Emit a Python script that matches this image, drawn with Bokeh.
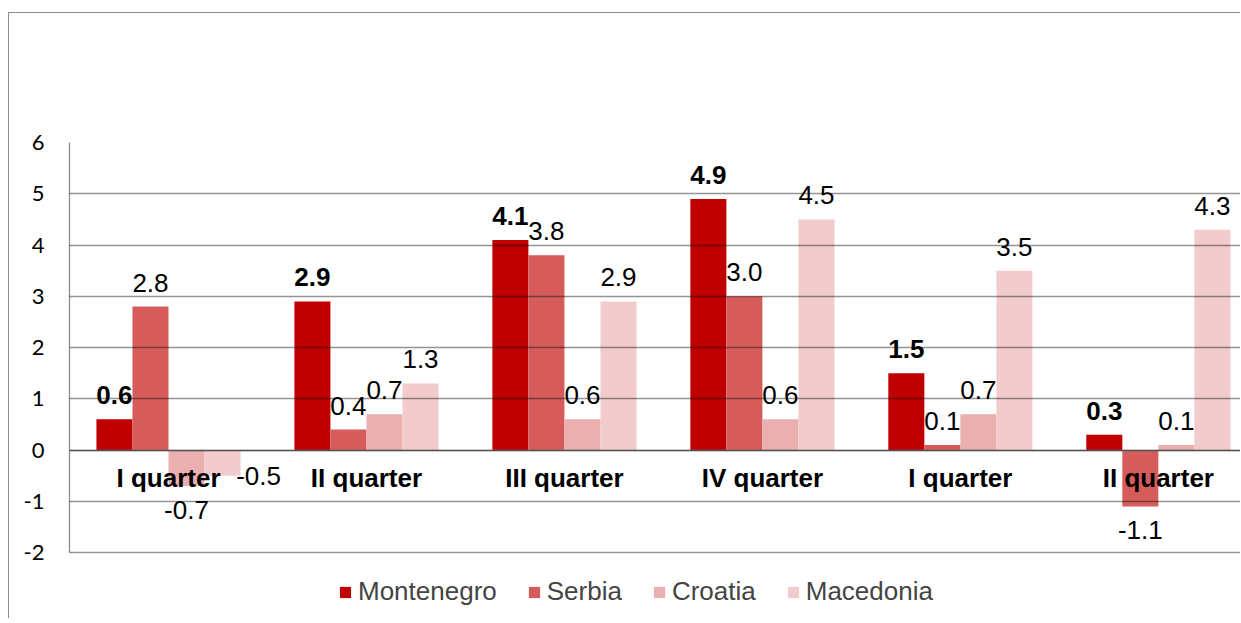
from bokeh.plotting import figure
from bokeh.models import (ColumnDataSource, FixedTicker, LabelSet, Legend, LegendItem,
                          Range1d)
from bokeh.core.properties import value
from bokeh.transform import dodge
from bokeh.embed import file_html
from bokeh.resources import INLINE

# ---- data ----
categories = ["I quarter", "II quarter", "III quarter", "IV quarter", "I quarter", "II quarter"]
series_names = ["Montenegro", "Serbia", "Croatia", "Macedonia"]
montenegro = [0.6, 2.9, 4.1, 4.9, 1.5, 0.3]
serbia = [2.8, 0.4, 3.8, 3.0, 0.1, -1.1]
croatia = [-0.7, 0.7, 0.6, 0.6, 0.7, 0.1]
macedonia = [-0.5, 1.3, 2.9, 4.5, 3.5, 4.3]
y_ticks = [-2, -1, 0, 1, 2, 3, 4, 5, 6]

# ---- styles ----
colors = ["#C00000", "#D65C5C", "#EBAFAF", "#F2CCCC"]
grid_gray = "#8c8c8c"
bar_w = 0.182
offsets = [-1.5 * bar_w, -0.5 * bar_w, 0.5 * bar_w, 1.5 * bar_w]
label_font = "Liberation Sans"
fs = "26px"
# manual nudges of single data labels (series index, group index) -> (dx, dy) px
nudges = {(3, 0): (36, 24)}

x = [i + 0.5 for i in range(len(categories))]
values = [montenegro, serbia, croatia, macedonia]

# frame runs from the value-6 line down to the canvas bottom; the legend sits
# inside it, below the -2 line (which is drawn by the grid and the bounded y axis)
p = figure(width=1232, height=606, output_backend="svg", toolbar_location=None,
           x_range=Range1d(0, 5.92), y_range=Range1d(-3.307, 6),
           min_border_left=60, min_border_right=0, min_border_top=129,
           min_border_bottom=0)
p.margin = (12, 0, 0, 8)
p.styles = {"border-top": "1px solid #8c8c8c", "border-left": "1px solid #8c8c8c"}
p.outline_line_color = None
p.background_fill_color = "white"
p.border_fill_color = "white"

renderers = []
for si, (name, vals) in enumerate(zip(series_names, values)):
    dx = [nudges.get((si, gi), (0, 0))[0] for gi in range(len(vals))]
    dy = [(24 if v >= 0 else -24) + nudges.get((si, gi), (0, 0))[1] for gi, v in enumerate(vals)]
    src = ColumnDataSource(dict(x=x, top=vals, txt=[f"{v:.1f}" for v in vals], dx=dx, dy=dy))
    r = p.vbar(x=dodge("x", offsets[si], range=p.x_range), top="top", bottom=0, width=bar_w,
               source=src, fill_color=colors[si], line_color=None)
    renderers.append(r)
    lab = LabelSet(x=dodge("x", offsets[si], range=p.x_range), y="top", text="txt",
                   x_offset="dx", y_offset="dy", source=src,
                   text_align="center", text_baseline="middle",
                   text_font=value(label_font), text_font_size=value(fs), text_color="black",
                   text_font_style="bold" if si == 0 else "normal")
    p.add_layout(lab)

# axes
p.xaxis.fixed_location = 0
p.xaxis.ticker = FixedTicker(ticks=x)
p.xaxis.major_label_overrides = {xx: c for xx, c in zip(x, categories)}
p.xaxis.major_tick_line_color = None
p.xaxis.minor_tick_line_color = None
p.xaxis.axis_line_color = grid_gray
p.xaxis.axis_line_width = 1.3
p.xaxis.major_label_standoff = 7
p.xaxis.major_label_text_font = label_font
p.xaxis.major_label_text_font_style = "bold"
p.xaxis.major_label_text_font_size = fs
p.xaxis.major_label_text_color = "black"

p.yaxis.ticker = FixedTicker(ticks=y_ticks)
p.yaxis.bounds = (min(y_ticks), max(y_ticks))
p.yaxis.major_label_overrides = {t: str(t) for t in y_ticks}
p.yaxis.major_tick_line_color = None
p.yaxis.minor_tick_line_color = None
p.yaxis.axis_line_color = grid_gray
p.yaxis.axis_line_width = 1.3
p.yaxis.major_label_standoff = 19
p.yaxis.major_label_text_font = "Lato"
p.yaxis.major_label_text_font_size = "22px"
p.yaxis.major_label_text_color = "black"

p.xgrid.visible = False
p.ygrid.ticker = FixedTicker(ticks=y_ticks)
p.ygrid.grid_line_color = "black"
p.ygrid.grid_line_alpha = 0.42
p.ygrid.grid_line_width = 1.3
p.ygrid.level = "guide"

legend = Legend(items=[LegendItem(label=n, renderers=[r]) for n, r in zip(series_names, renderers)],
                orientation="horizontal", location=(269, 12),
                glyph_width=14, glyph_height=14, label_standoff=6, spacing=30,
                label_text_font=label_font, label_text_font_size=fs,
                padding=0, margin=0, border_line_color=None, background_fill_alpha=0)
p.add_layout(legend)

open("out.html", "w").write(file_html(p, INLINE))
